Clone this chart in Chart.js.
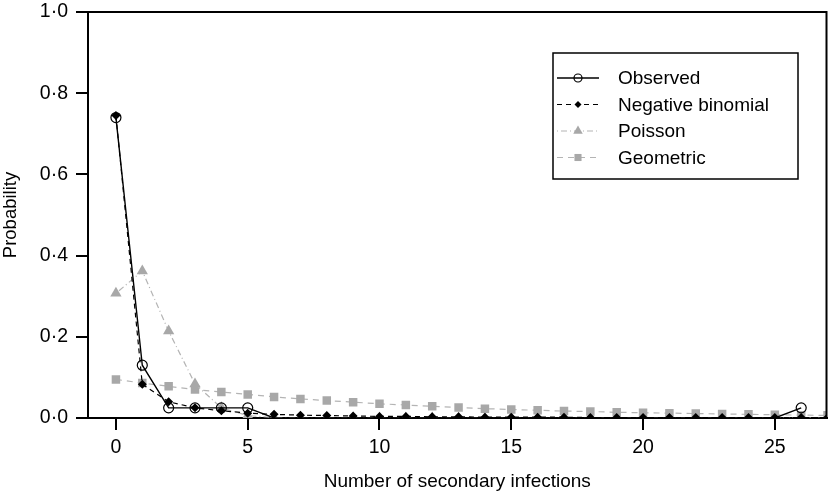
<!DOCTYPE html>
<html>
<head>
<meta charset="utf-8">
<script src="https://cdn.jsdelivr.net/npm/chart.js@4/dist/chart.umd.min.js"></script>
<style>
  html, body { margin: 0; padding: 0; background: #fff; }
  #wrap { width: 833px; height: 493px; }
</style>
</head>
<body>
<div id="wrap"><canvas id="chart"></canvas></div>
<script>
// values
const counts = [0,1,2,3,4,5,6,7,8,9,10,11,12,13,14,15,16,17,18,19,20,21,22,23,24,25,26,27];
const observed = [0.74,0.13,0.025,0.025,0.025,0.025,0,0,0,0,0,0,0,0,0,0,0,0,0,0,0,0,0,0,0,0,0.025];
const negBinomial = [0.745,0.083,0.04,0.025,0.018,0.012,0.009,0.007,0.006,0.005,0.004,0.004,0.003,0.003,0.002,0.002,0.002,0.002,0.001,0.001,0.001,0.001,0.001,0.001,0.001,0.001,0.001,0.001];
const poisson = [0.307,0.362,0.214,0.084,0.025,0.006,0.001,0,0,0,0,0,0,0,0,0,0,0,0,0,0,0,0,0,0,0,0,0];
const geometric = [0.095,0.086,0.078,0.070,0.064,0.058,0.052,0.047,0.043,0.039,0.035,0.032,0.029,0.026,0.023,0.021,0.019,0.017,0.016,0.014,0.013,0.012,0.011,0.010,0.009,0.008,0.007,0.0065];
const xTicks = [0, 5, 10, 15, 20, 25];
const yTicks = [0, 0.2, 0.4, 0.6, 0.8, 1.0];
const yTickLabels = ['0·0', '0·2', '0·4', '0·6', '0·8', '1·0'];

const grey = '#a8a8a8';
const font = 'Liberation Sans, Arial, Helvetica, sans-serif';

function pts(arr) {
  return arr.map((v, i) => ({ x: counts[i], y: v }));
}

const series = [
  { label: 'Observed', data: pts(observed), borderColor: '#000', borderWidth: 1.4, borderDash: [],
    pointStyle: 'circle', pointRadius: ctx => (ctx.raw && ctx.raw.y === 0 ? 0 : 5),
    pointBackgroundColor: 'rgba(0,0,0,0)', pointBorderColor: '#000', pointBorderWidth: 1.2 },
  { label: 'Negative binomial', data: pts(negBinomial), borderColor: '#000', borderWidth: 1.2, borderDash: [5, 4],
    pointStyle: 'rectRot', pointRadius: 4.5, pointBackgroundColor: '#000', pointBorderColor: '#000', pointBorderWidth: 0 },
  { label: 'Poisson', data: pts(poisson), borderColor: '#b4b4b4', borderWidth: 1.2, borderDash: [1, 3, 6, 3],
    pointStyle: 'triangle', pointRadius: 6.5, pointBackgroundColor: grey, pointBorderColor: grey, pointBorderWidth: 0 },
  { label: 'Geometric', data: pts(geometric), borderColor: '#b4b4b4', borderWidth: 1.2, borderDash: [6, 5],
    pointStyle: 'rect', pointRadius: 6, pointBackgroundColor: grey, pointBorderColor: grey, pointBorderWidth: 0 }
];

const frame = {
  id: 'frame',
  afterDatasetsDraw(chart) {
    const { ctx, chartArea: a } = chart;
    ctx.save();
    ctx.strokeStyle = '#000';
    ctx.lineWidth = 2;
    ctx.beginPath();
    ctx.moveTo(a.left, a.top);
    ctx.lineTo(a.right, a.top);
    ctx.lineTo(a.right, a.bottom);
    ctx.stroke();

    // legend box
    const bx = 553, by = 53, bw = 245, bh = 126;
    ctx.fillStyle = '#fff';
    ctx.fillRect(bx, by, bw, bh);
    ctx.lineWidth = 1.5;
    ctx.strokeRect(bx, by, bw, bh);
    ctx.font = '19px ' + font;
    ctx.textBaseline = 'middle';
    series.forEach((s, i) => {
      const y = 78 + i * 26.5;
      ctx.save();
      ctx.strokeStyle = s.borderColor;
      ctx.lineWidth = s.borderWidth;
      ctx.setLineDash(s.borderDash);
      ctx.beginPath();
      ctx.moveTo(557, y);
      ctx.lineTo(599, y);
      ctx.stroke();
      ctx.restore();
      ctx.save();
      ctx.fillStyle = s.pointBackgroundColor;
      ctx.strokeStyle = s.pointBorderColor;
      ctx.lineWidth = s.pointBorderWidth;
      const r = typeof s.pointRadius === 'function' ? 5 : s.pointRadius;
      Chart.helpers.drawPoint(ctx, { pointStyle: s.pointStyle, radius: r - 1, borderWidth: s.pointBorderWidth, rotation: 0 }, 578, y);
      ctx.restore();
      ctx.fillStyle = '#000';
      ctx.fillText(s.label, 618, y + 1);
    });
    ctx.restore();
  }
};

new Chart(document.getElementById('chart'), {
  type: 'line',
  data: {
    datasets: series.map(s => Object.assign({ fill: false, tension: 0 }, s))
  },
  options: {
    responsive: true,
    maintainAspectRatio: false,
    animation: false,
    events: [],
    layout: { padding: { top: 12, right: 2, left: 0, bottom: 0 } },
    plugins: { legend: { display: false }, tooltip: { enabled: false } },
    scales: {
      x: {
        type: 'linear',
        min: -1.06,
        max: 26.96,
        afterBuildTicks: scale => { scale.ticks = xTicks.map(v => ({ value: v })); },
        afterFit: scale => { scale.height = 75; scale.paddingLeft = 0; scale.paddingRight = 0; },
        grid: { drawOnChartArea: false, drawTicks: true, tickLength: 12, color: '#000', lineWidth: 2 },
        border: { display: true, color: '#000', width: 2 },
        ticks: { color: '#000', font: { family: font, size: 19.5 }, padding: 6, maxRotation: 0 },
        title: { display: true, text: 'Number of secondary infections', color: '#000',
                 font: { family: font, size: 19 }, padding: { top: 4, bottom: 0 } }
      },
      y: {
        type: 'linear',
        min: 0,
        max: 1,
        afterBuildTicks: scale => { scale.ticks = yTicks.map(v => ({ value: v })); },
        afterFit: scale => { scale.width = 88; scale.paddingTop = 0; scale.paddingBottom = 0; },
        grid: { drawOnChartArea: false, drawTicks: true, tickLength: 12, color: '#000', lineWidth: 2 },
        border: { display: true, color: '#000', width: 2 },
        ticks: { color: '#000', font: { family: font, size: 19.5 }, padding: 8,
                 callback: (v, i) => yTickLabels[i] },
        title: { display: true, text: 'Probability', color: '#000',
                 font: { family: font, size: 18.5 }, padding: { top: 0, bottom: 2 } }
      }
    }
  },
  plugins: [frame]
});
</script>
</body>
</html>
